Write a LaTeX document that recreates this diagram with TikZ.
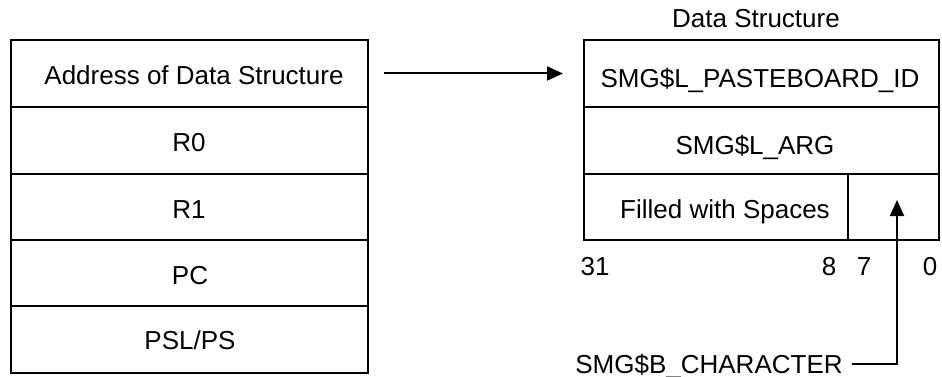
\documentclass[tikz,border=0pt]{standalone}
\usepackage{fontspec}
\setmainfont{Liberation Sans}
\usetikzlibrary{arrows.meta}
\begin{document}
\begin{tikzpicture}[x=1pt,y=-1pt,
  cell/.style={draw,line width=2pt,rectangle,inner sep=0pt,anchor=north west},
  lbl/.style={anchor=base,inner sep=0pt,font=\fontsize{26}{31}\selectfont},
  conn/.style={line width=2pt,-{Triangle[length=16pt,width=14pt]}}]
\useasboundingbox (0,0) rectangle (942,377);
% left stack
\node[cell,minimum width=357pt,minimum height=67pt] (c1) at (10,39) {};
\node[cell,minimum width=357pt,minimum height=67pt] (c2) at (10,106) {};
\node[cell,minimum width=357pt,minimum height=66pt] (c3) at (10,173) {};
\node[cell,minimum width=357pt,minimum height=66pt] (c4) at (10,239) {};
\node[cell,minimum width=357pt,minimum height=67pt] (c5) at (10,305) {};
\node[lbl] (t1) at (194,85) {Address of Data Structure};
\node[lbl] (t2) at (189,152) {R0};
\node[lbl] (t3) at (189,218) {R1};
\node[lbl] (t4) at (190,284) {PC};
\node[lbl] (t5) at (190,349) {PSL/PS};
% right structure
\node[lbl] (title) at (756,28) {Data Structure};
\node[cell,minimum width=355pt,minimum height=67pt] (d1) at (583,39) {};
\node[cell,minimum width=355pt,minimum height=67pt] (d2) at (583,106) {};
\node[cell,minimum width=264pt,minimum height=66pt] (d3) at (583,173) {};
\node[cell,minimum width=91pt,minimum height=66pt] (d4) at (847,173) {};
\node[lbl] (s1) at (760,88) {SMG\$L\_PASTEBOARD\_ID};
\node[lbl] (s2) at (755,154) {SMG\$L\_ARG};
\node[lbl] (s3) at (725,218) {Filled with Spaces};
\node[lbl] (n31) at (595,275) {31};
\node[lbl] (n8) at (829,275) {8};
\node[lbl] (n7) at (864,275) {7};
\node[lbl] (n0) at (930,275) {0};
\node[lbl] (sb) at (709,373) {SMG\$B\_CHARACTER};
\coordinate (start) at (852,364);
\coordinate (corner) at (897,364);
\coordinate (tip) at (897,200);
% connectors
\draw[conn,shorten <=15pt,shorten >=20pt] (c1.east) -- (d1.west);
\draw[conn] (start) -- (corner) -- (tip);
\end{tikzpicture}
\end{document}
